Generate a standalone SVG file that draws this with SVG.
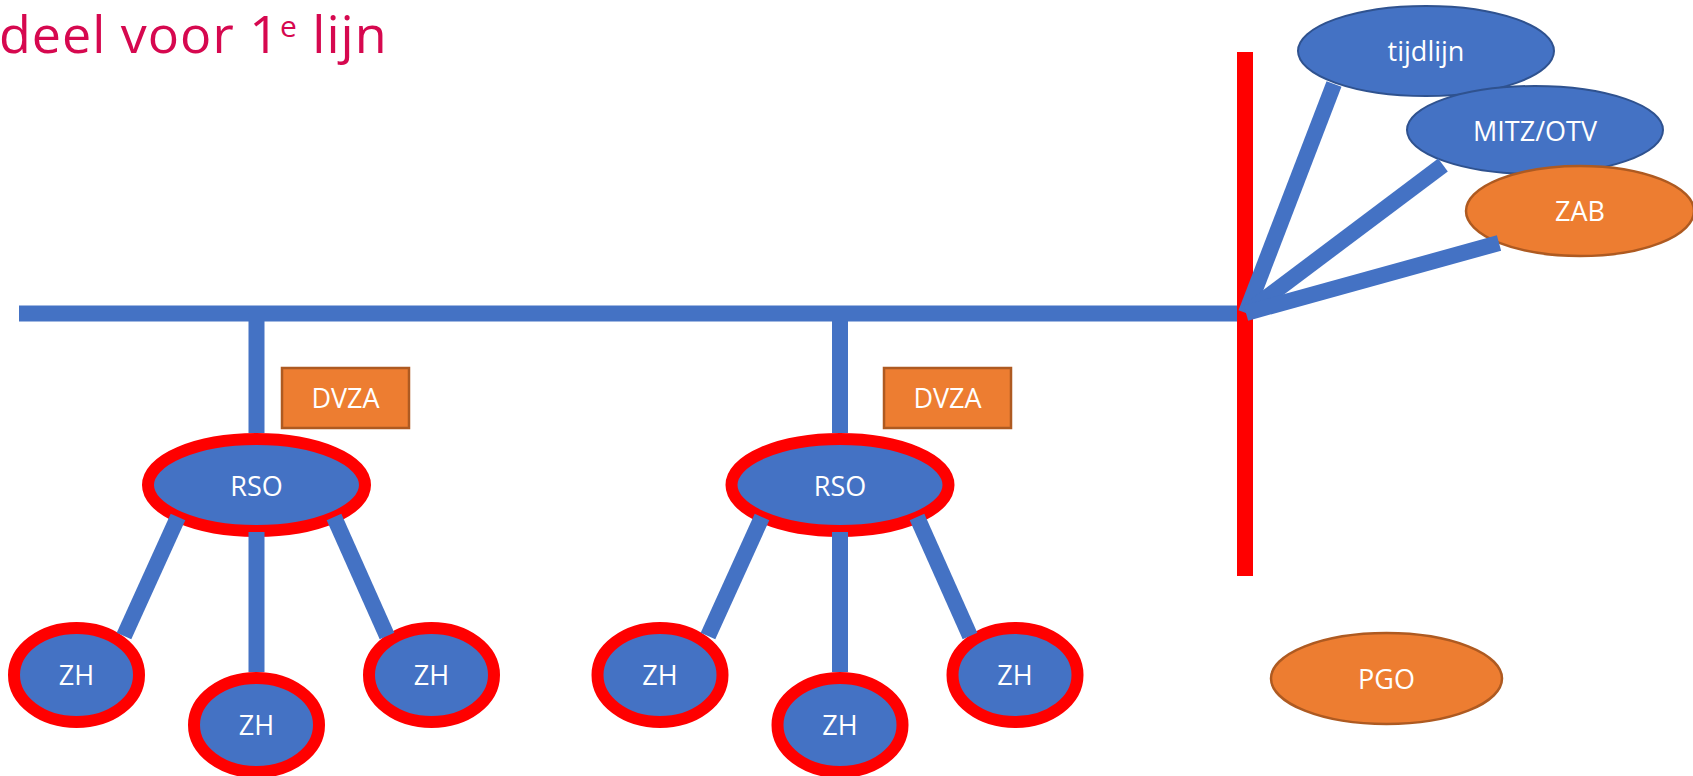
<svg xmlns="http://www.w3.org/2000/svg" width="1693" height="776" viewBox="0 0 1693 776">
  <style>
    .lbl { font-family: "Open Sans", "Liberation Sans", sans-serif; font-size: 27px; fill: #FFFFFF; text-anchor: middle; }
    .title { font-family: "Open Sans", "Liberation Sans", sans-serif; font-size: 52px; letter-spacing: 1px; fill: #D6084F; }
    .ring { fill: #4472C4; stroke: #FF0000; stroke-width: 12; }
    .blue { fill: #4472C4; stroke: #2F528F; stroke-width: 2; }
    .orange { fill: #ED7D31; stroke: #AE5A21; stroke-width: 2.5; }
    .conn { stroke: #4472C4; stroke-width: 16; fill: none; stroke-linecap: butt; }
    .divider { stroke: #FF0000; stroke-width: 16; fill: none; }
  </style>
  <rect width="1693" height="776" fill="#FFFFFF"/>

  <g id="title">
    <text class="title" x="-1" y="53">deel voor 1<tspan font-size="30" dy="-16">e</tspan><tspan dy="16"> lijn</tspan></text>
  </g>

  <g id="divider">
    <line class="divider" x1="1245" y1="52" x2="1245" y2="576"/>
  </g>

  <!-- Group 1 -->
  <g id="dvza-1"><rect class="orange" x="282" y="368" width="127" height="60"/><text class="lbl" x="345.5" y="408">DVZA</text></g>
  <g id="rso-1"><ellipse class="ring" cx="256.5" cy="485" rx="108.5" ry="46"/><text class="lbl" x="256.5" y="496">RSO</text></g>
  <g id="zh-1a"><ellipse class="ring" cx="76.5" cy="675" rx="62.5" ry="47"/><text class="lbl" x="76.5" y="685">ZH</text></g>
  <g id="zh-1b"><ellipse class="ring" cx="256.5" cy="725" rx="62.5" ry="47"/><text class="lbl" x="256.5" y="735">ZH</text></g>
  <g id="zh-1c"><ellipse class="ring" cx="431.5" cy="675" rx="62.5" ry="47"/><text class="lbl" x="431.5" y="685">ZH</text></g>

  <!-- Group 2 -->
  <g id="dvza-2"><rect class="orange" x="884" y="368" width="127" height="60"/><text class="lbl" x="947.5" y="408">DVZA</text></g>
  <g id="rso-2"><ellipse class="ring" cx="840" cy="485" rx="108.5" ry="46"/><text class="lbl" x="840" y="496">RSO</text></g>
  <g id="zh-2a"><ellipse class="ring" cx="660" cy="675" rx="62.5" ry="47"/><text class="lbl" x="660" y="685">ZH</text></g>
  <g id="zh-2b"><ellipse class="ring" cx="840" cy="725" rx="62.5" ry="47"/><text class="lbl" x="840" y="735">ZH</text></g>
  <g id="zh-2c"><ellipse class="ring" cx="1015" cy="675" rx="62.5" ry="47"/><text class="lbl" x="1015" y="685">ZH</text></g>

  <!-- Right side -->
  <g id="tijdlijn"><ellipse class="blue" cx="1426" cy="51" rx="128" ry="45"/><text class="lbl" x="1426" y="61">tijdlijn</text></g>
  <g id="mitz-otv"><ellipse class="blue" cx="1535" cy="130" rx="128" ry="44"/><text class="lbl" x="1535" y="141">MITZ/OTV</text></g>
  <g id="zab"><ellipse class="orange" cx="1580" cy="211" rx="114" ry="45"/><text class="lbl" x="1580" y="221">ZAB</text></g>
  <g id="pgo"><ellipse class="orange" cx="1386.5" cy="678.5" rx="115.5" ry="45.5"/><text class="lbl" x="1386.5" y="689">PGO</text></g>

  <g id="connectors">
    <line class="conn" x1="19" y1="313.5" x2="1237" y2="313.5"/>
    <line class="conn" x1="256.5" y1="313.5" x2="256.5" y2="433"/>
    <line class="conn" x1="840" y1="313.5" x2="840" y2="433"/>
    <line class="conn" x1="178" y1="517" x2="124" y2="636"/>
    <line class="conn" x1="256.5" y1="532" x2="256.5" y2="672"/>
    <line class="conn" x1="334" y1="517" x2="387" y2="636"/>
    <line class="conn" x1="762" y1="517" x2="708" y2="636"/>
    <line class="conn" x1="840" y1="532" x2="840" y2="672"/>
    <line class="conn" x1="917" y1="517" x2="970" y2="636"/>
    <line class="conn" x1="1246" y1="313" x2="1334" y2="84"/>
    <line class="conn" x1="1246" y1="313" x2="1443" y2="165"/>
    <line class="conn" x1="1246" y1="313" x2="1499" y2="243"/>
  </g>
</svg>
